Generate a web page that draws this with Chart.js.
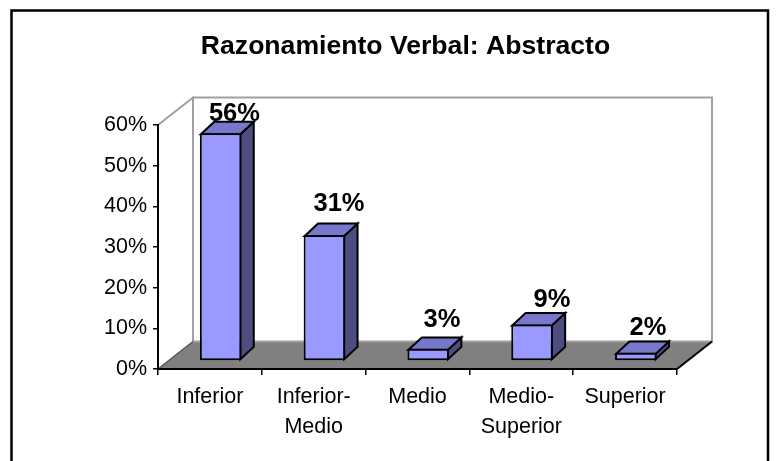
<!DOCTYPE html>
<html>
<head>
<meta charset="utf-8">
<style>html,body{margin:0;padding:0;background:#fff}canvas{display:block}</style>
<script src="https://cdn.jsdelivr.net/npm/chart.js@4/dist/chart.umd.min.js"></script>
</head>
<body>
<div style="width:779px;height:461px"><canvas id="c" width="779" height="461"></canvas></div>
<script>
const titleText = 'Razonamiento Verbal: Abstracto';
const categories = ['Inferior', ['Inferior-', 'Medio'], 'Medio', ['Medio-', 'Superior'], 'Superior'];
const values = [56, 31, 3, 9, 2];
const yTicks = [0, 10, 20, 30, 40, 50, 60];

const FONT = '"Liberation Sans", Arial, sans-serif';
const WALL = {dx: 35, dy: -27.5};          // depth of the floor and walls
const BAR_PLANE = {dx: 10.7, dy: -8};      // where the bars sit inside that depth
const BAR_DEPTH = {dx: 13.4, dy: -12.4};
const labelNudge = [[0.4, 10], [1.2, -1.5], [0.4, 0.3], [6.6, 4.7], [-1.2, 4.5]];

const scene = {
  id: 'scene',
  beforeDraw(chart) {
    const {ctx} = chart, x = chart.scales.x, y = chart.scales.y;
    const l = x.left, r = x.right, b = y.bottom, t = y.top;
    ctx.save();
    ctx.fillStyle = '#fff';
    ctx.fillRect(0, 0, chart.width, chart.height);
    ctx.strokeStyle = '#000'; ctx.lineWidth = 2.5;
    ctx.strokeRect(11.5, 10.5, 756.5, 480);
    // floor
    ctx.fillStyle = '#808080';
    ctx.beginPath();
    ctx.moveTo(l, b); ctx.lineTo(l + WALL.dx, b + WALL.dy);
    ctx.lineTo(r + WALL.dx, b + WALL.dy); ctx.lineTo(r, b);
    ctx.closePath(); ctx.fill();
    // walls
    ctx.strokeStyle = '#a0a0a0'; ctx.lineWidth = 2;
    ctx.beginPath();
    ctx.moveTo(l, t); ctx.lineTo(l + WALL.dx, t + WALL.dy);
    ctx.lineTo(l + WALL.dx, b + WALL.dy);
    ctx.moveTo(l + WALL.dx, t + WALL.dy); ctx.lineTo(r + WALL.dx, t + WALL.dy);
    ctx.lineTo(r + WALL.dx, b + WALL.dy); ctx.lineTo(l + WALL.dx, b + WALL.dy);
    ctx.stroke();
    // floor side edges
    ctx.strokeStyle = '#555'; ctx.lineWidth = 1.5;
    ctx.beginPath(); ctx.moveTo(l, b); ctx.lineTo(l + WALL.dx, b + WALL.dy); ctx.stroke();
    ctx.strokeStyle = '#000'; ctx.lineWidth = 2;
    ctx.beginPath(); ctx.moveTo(r, b); ctx.lineTo(r + WALL.dx, b + WALL.dy); ctx.stroke();
    ctx.restore();
  },
  beforeDatasetsDraw(chart) {
    const {ctx} = chart;
    ctx.save();
    ctx.translate(BAR_PLANE.dx, BAR_PLANE.dy);
    ctx.lineJoin = 'miter'; ctx.strokeStyle = '#000'; ctx.lineWidth = 2;
    chart.getDatasetMeta(0).data.forEach(bar => {
      const L = bar.x - bar.width / 2 + 1, R = bar.x + bar.width / 2 - 1, T = bar.y + 1, B = bar.base - 1;
      ctx.fillStyle = '#4d4d80';
      ctx.beginPath();
      ctx.moveTo(R, T); ctx.lineTo(R + BAR_DEPTH.dx, T + BAR_DEPTH.dy);
      ctx.lineTo(R + BAR_DEPTH.dx, B + BAR_DEPTH.dy); ctx.lineTo(R, B);
      ctx.closePath(); ctx.fill(); ctx.stroke();
      ctx.fillStyle = '#7777cc';
      ctx.beginPath();
      ctx.moveTo(L, T); ctx.lineTo(L + BAR_DEPTH.dx, T + BAR_DEPTH.dy);
      ctx.lineTo(R + BAR_DEPTH.dx, T + BAR_DEPTH.dy); ctx.lineTo(R, T);
      ctx.closePath(); ctx.fill(); ctx.stroke();
    });
  },
  afterDatasetsDraw(chart) {
    const {ctx} = chart;
    ctx.restore();
    ctx.save();
    ctx.fillStyle = '#000';
    ctx.font = 'bold 25.5px ' + FONT;
    ctx.textAlign = 'center';
    ctx.textBaseline = 'alphabetic';
    chart.getDatasetMeta(0).data.forEach((bar, i) => {
      const n = labelNudge[i];
      ctx.fillText(values[i] + '%',
        bar.x + BAR_PLANE.dx + BAR_DEPTH.dx + n[0],
        bar.y + BAR_PLANE.dy + BAR_DEPTH.dy - 10 + n[1]);
    });
    ctx.restore();
  },
  afterLayout(chart) {
    // title centre sits over the plot including its depth
    const c = chart.titleBlock;
    if (c) { c.left = 31; c.right = 780; }
  }
};

new Chart(document.getElementById('c'), {
  type: 'bar',
  data: {
    labels: categories,
    datasets: [{
      data: values,
      base: 0.17,
      backgroundColor: '#9999ff',
      borderColor: '#000',
      borderWidth: 2,
      borderSkipped: false,
      barPercentage: 0.4,
      categoryPercentage: 1,
      clip: false
    }]
  },
  options: {
    responsive: false,
    animation: false,
    layout: {padding: {left: 98, right: 102, top: 0, bottom: 0}},
    plugins: {
      legend: {display: false},
      tooltip: {enabled: false},
      title: {
        display: true, text: titleText, color: '#000',
        font: {family: FONT, size: 26.6, weight: 'bold', lineHeight: 1.15},
        padding: {top: 31, bottom: 63.4}
      }
    },
    scales: {
      x: {
        afterFit(s) { s.height = 92; },
        grid: {drawOnChartArea: false, color: '#000', lineWidth: 1.5, tickLength: 6, offset: true},
        border: {color: '#000', width: 2},
        ticks: {color: '#000', font: {family: FONT, size: 21.5, lineHeight: 1.4}, padding: 7, maxRotation: 0, autoSkip: false}
      },
      y: {
        min: 0, max: 60,
        afterFit(s) { s.width = 60; },
        afterBuildTicks(s) { s.ticks = yTicks.map(v => ({value: v})); },
        grid: {drawOnChartArea: false, color: '#000', lineWidth: 1.5, tickLength: 5},
        border: {color: '#000', width: 2},
        ticks: {color: '#000', font: {family: FONT, size: 21.5}, padding: 6, callback: v => v + '%'}
      }
    }
  },
  plugins: [scene]
});
</script>
</body>
</html>
